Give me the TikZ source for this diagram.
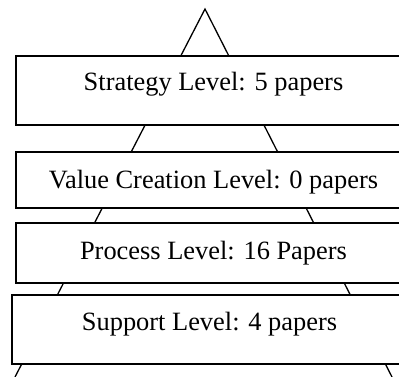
\documentclass[tikz,border=0pt]{standalone}
\usepackage{fontspec}
\setmainfont{Liberation Serif}
\usetikzlibrary{positioning}

\tikzset{
    levelbox/.style={draw, fill=white, line width=1.6pt, inner ysep=0pt, minimum width=395pt,
        font=\fontsize{26.4}{30}\selectfont, anchor=base},
    pyramid/.style={line width=1.3pt}
}

\begin{document}
\begin{tikzpicture}[x=1pt, y=-1pt]
                        \useasboundingbox (0, 0) rectangle (399, 377);
                        \clip (0, 0) rectangle (399, 377);
                        \fill[white] (0, 0) rectangle (399, 377);

                        % pyramid outline behind the boxes
                        \coordinate (apex) at (205, 9);
                        \coordinate (baseleft) at (15, 377);
                        \coordinate (baseright) at (392, 377);
                        \draw[pyramid] (baseleft) -- (apex) -- (baseright);

                        \node[levelbox, text height=34.5pt, text depth=34.5pt] (strategy) at (213.5, 90.5) {Strategy Level: 5 papers};
                        \node[levelbox, text height=37pt, text depth=19pt] (value) at (213.5, 189) {Value Creation Level: 0 papers};
                        \node[levelbox, text height=36pt, text depth=24pt] (process) at (213.5, 259) {Process Level: 16 Papers};
                        \node[levelbox, text height=35pt, text depth=34pt] (support) at (209.5, 330) {Support Level: 4 papers};
                    \end{tikzpicture}
\end{document}
